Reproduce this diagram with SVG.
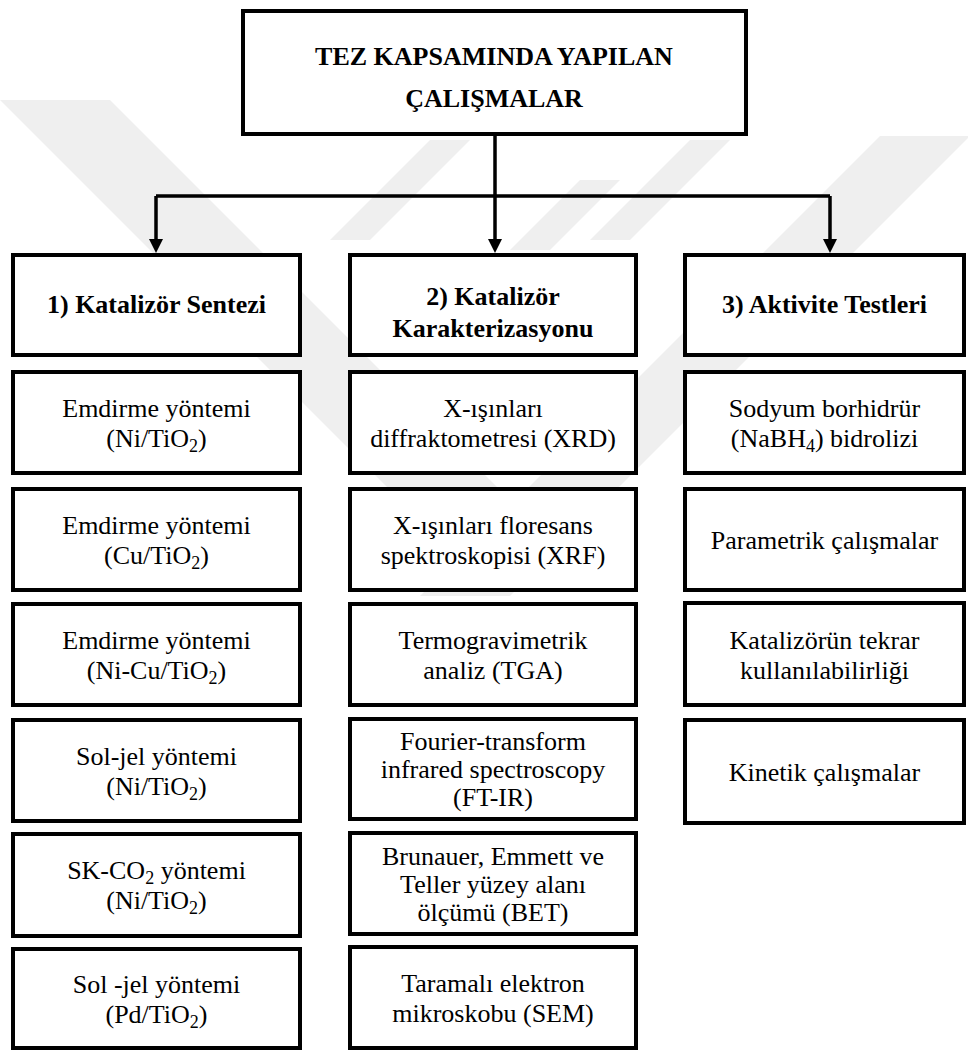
<svg xmlns="http://www.w3.org/2000/svg" width="968" height="1052" viewBox="0 0 968 1052">
  <defs>
    <style>
      .box { fill: #ffffff; stroke: #000000; stroke-width: 4; }
      .wire { fill: none; stroke: #000000; stroke-width: 3.5; }
      text { font-family: 'Liberation Serif', 'Times New Roman', serif; font-size: 26px; fill: #000000; text-anchor: middle; }
      .b { font-weight: bold; }
      .wm { fill: #efefef; }
    </style>
    <marker id="arrow" markerWidth="14" markerHeight="14" refX="0" refY="7" orient="auto" markerUnits="userSpaceOnUse">
      <path d="M0,0 L14,7 L0,14 z" fill="#000000"/>
    </marker>
  </defs>

  <rect width="968" height="1052" fill="#ffffff"/>

  <!-- faint background logo -->
  <g id="watermark">
    <polygon class="wm" points="0,100 110,100 570,560 460,560"/>
    <polygon class="wm" points="880,136 970,136 510,596 420,596"/>
    <polygon class="wm" points="330,240 370,240 470,140 430,140"/>
    <polygon class="wm" points="510,250 550,250 620,180 580,180"/>
    <polygon class="wm" points="590,240 630,240 730,140 690,140"/>
  </g>

  <!-- connectors -->
  <g id="connectors">
    <path class="wire" d="M495,136 V196 M156,196 H830"/>
    <path class="wire" d="M156,196 V239" marker-end="url(#arrow)"/>
    <path class="wire" d="M495,196 V239" marker-end="url(#arrow)"/>
    <path class="wire" d="M830,196 V239" marker-end="url(#arrow)"/>
  </g>

  <!-- root -->
  <g id="root">
    <rect class="box" x="243" y="11" width="503" height="123"/>
    <text class="b" x="494" y="65">TEZ KAPSAMINDA YAPILAN</text>
    <text class="b" x="494" y="107">ÇALIŞMALAR</text>
  </g>

  <!-- column headers -->
  <g id="sentez">
    <rect class="box" x="13" y="255" width="287" height="100"/>
    <text class="b" x="156.5" y="313">1) Katalizör Sentezi</text>
  </g>
  <g id="karakterizasyon">
    <rect class="box" x="350" y="255" width="286" height="100"/>
    <text class="b" x="493" y="305">2) Katalizör</text>
    <text class="b" x="493" y="337">Karakterizasyonu</text>
  </g>
  <g id="aktivite">
    <rect class="box" x="685" y="255" width="279" height="100"/>
    <text class="b" x="824.5" y="313">3) Aktivite Testleri</text>
  </g>

  <!-- column 1: synthesis methods -->
  <g id="s1">
    <rect class="box" x="13" y="372" width="287" height="101"/>
    <text x="156.5" y="416.5">Emdirme yöntemi</text>
    <text x="156.5" y="446.5">(Ni/TiO<tspan font-size="18" dy="5">2</tspan><tspan dy="-5">)</tspan></text>
  </g>
  <g id="s2">
    <rect class="box" x="13" y="489" width="287" height="101"/>
    <text x="156.5" y="533.5">Emdirme yöntemi</text>
    <text x="156.5" y="563.5">(Cu/TiO<tspan font-size="18" dy="5">2</tspan><tspan dy="-5">)</tspan></text>
  </g>
  <g id="s3">
    <rect class="box" x="13" y="604" width="287" height="101"/>
    <text x="156.5" y="648.5">Emdirme yöntemi</text>
    <text x="156.5" y="678.5">(Ni-Cu/TiO<tspan font-size="18" dy="5">2</tspan><tspan dy="-5">)</tspan></text>
  </g>
  <g id="s4">
    <rect class="box" x="13" y="720" width="287" height="101"/>
    <text x="156.5" y="764.5">Sol-jel yöntemi</text>
    <text x="156.5" y="794.5">(Ni/TiO<tspan font-size="18" dy="5">2</tspan><tspan dy="-5">)</tspan></text>
  </g>
  <g id="s5">
    <rect class="box" x="13" y="834" width="287" height="102"/>
    <text x="156.5" y="879">SK-CO<tspan font-size="18" dy="5">2</tspan><tspan dy="-5"> yöntemi</tspan></text>
    <text x="156.5" y="909">(Ni/TiO<tspan font-size="18" dy="5">2</tspan><tspan dy="-5">)</tspan></text>
  </g>
  <g id="s6">
    <rect class="box" x="13" y="949" width="287" height="99"/>
    <text x="156.5" y="992.5">Sol -jel yöntemi</text>
    <text x="156.5" y="1022.5">(Pd/TiO<tspan font-size="18" dy="5">2</tspan><tspan dy="-5">)</tspan></text>
  </g>

  <!-- column 2: characterization techniques -->
  <g id="k1">
    <rect class="box" x="350" y="372" width="286" height="101"/>
    <text x="493" y="416.5">X-ışınları</text>
    <text x="493" y="446.5">diffraktometresi (XRD)</text>
  </g>
  <g id="k2">
    <rect class="box" x="350" y="489" width="286" height="101"/>
    <text x="493" y="533.5">X-ışınları floresans</text>
    <text x="493" y="563.5">spektroskopisi (XRF)</text>
  </g>
  <g id="k3">
    <rect class="box" x="350" y="604" width="286" height="101"/>
    <text x="493" y="648.5">Termogravimetrik</text>
    <text x="493" y="678.5">analiz (TGA)</text>
  </g>
  <g id="k4">
    <rect class="box" x="350" y="719" width="286" height="100"/>
    <text x="493" y="750">Fourier-transform</text>
    <text x="493" y="778">infrared spectroscopy</text>
    <text x="493" y="806">(FT-IR)</text>
  </g>
  <g id="k5">
    <rect class="box" x="350" y="833" width="286" height="101"/>
    <text x="493" y="864.5">Brunauer, Emmett ve</text>
    <text x="493" y="892.5">Teller yüzey alanı</text>
    <text x="493" y="920.5">ölçümü (BET)</text>
  </g>
  <g id="k6">
    <rect class="box" x="350" y="947" width="286" height="101"/>
    <text x="493" y="991.5">Taramalı elektron</text>
    <text x="493" y="1021.5">mikroskobu (SEM)</text>
  </g>

  <!-- column 3: activity tests -->
  <g id="a1">
    <rect class="box" x="685" y="372" width="279" height="101"/>
    <text x="824.5" y="416.5">Sodyum borhidrür</text>
    <text x="824.5" y="446.5">(NaBH<tspan font-size="18" dy="5">4</tspan><tspan dy="-5">) bidrolizi</tspan></text>
  </g>
  <g id="a2">
    <rect class="box" x="685" y="489" width="279" height="101"/>
    <text x="824.5" y="548.5">Parametrik çalışmalar</text>
  </g>
  <g id="a3">
    <rect class="box" x="685" y="603" width="279" height="102"/>
    <text x="824.5" y="648.5">Katalizörün tekrar</text>
    <text x="824.5" y="678.5">kullanılabilirliği</text>
  </g>
  <g id="a4">
    <rect class="box" x="685" y="720" width="279" height="103"/>
    <text x="824.5" y="780.5">Kinetik çalışmalar</text>
  </g>
</svg>
